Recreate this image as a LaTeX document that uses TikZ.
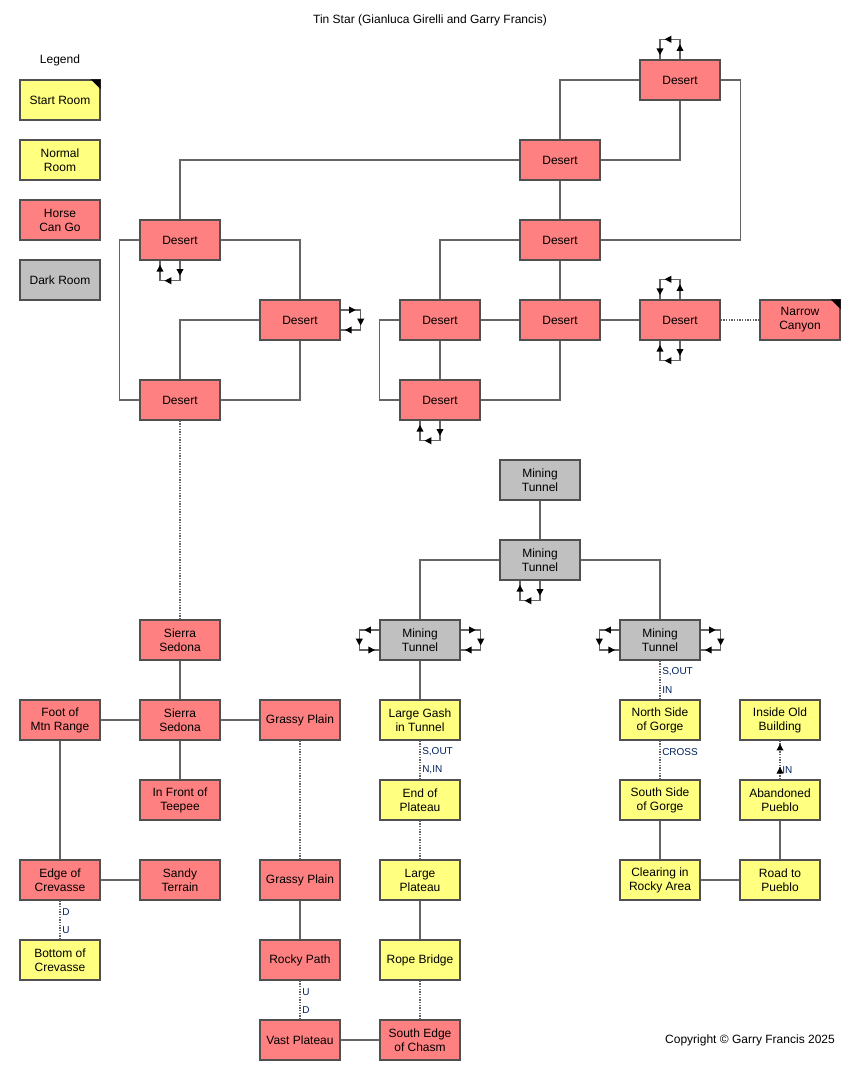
\documentclass[tikz,border=0pt]{standalone}
\usepackage{fontspec}
\setmainfont{Liberation Sans}
\usetikzlibrary{calc,decorations.markings,arrows.meta}
\definecolor{horse}{RGB}{255,128,128}
\definecolor{normal}{RGB}{255,255,128}
\definecolor{darkroom}{RGB}{192,192,192}
\definecolor{edgec}{RGB}{80,80,80}
\definecolor{conn}{RGB}{100,100,100}
\definecolor{lblc}{RGB}{0,32,96}
\begin{document}
\begin{tikzpicture}[x=0.75pt,y=-0.75pt,
  room/.style={draw=edgec,line width=1.1pt,minimum width=60pt,minimum height=30pt,inner sep=0pt,align=center,font=\fontsize{9}{10.5}\selectfont,text=black},
  hroom/.style={room,fill=horse},
  nroom/.style={room,fill=normal},
  droom/.style={room,fill=darkroom},
  link/.style={draw=conn,line width=1pt},
  dotlink/.style={draw=conn,line width=1pt,dash pattern=on 1pt off 1pt},
  lbl/.style={anchor=west,inner sep=0pt,text=lblc,font=\fontsize{7.5}{9}\selectfont},
  tip/.style={black,fill=black},
  loopst/.style={draw=conn,line width=1pt,postaction={decorate},
    decoration={markings,
      mark=at position 0.25 with {\arrow[black]{Triangle[length=5pt,width=5pt]}},
      mark=at position 0.59 with {\arrow[black]{Triangle[length=5pt,width=5pt]}},
      mark=at position 0.93 with {\arrow[black]{Triangle[length=5pt,width=5pt]}}}},
  corner/.style={fill=black}
]
\useasboundingbox (0,0) rectangle (860,1080);
\fill[white] (0,0) rectangle (860,1080);

% title and legend
\node[font=\fontsize{9}{10.5}\selectfont] (title) at (430,20) {Tin Star (Gianluca Girelli and Garry Francis)};
\node[font=\fontsize{9}{10.5}\selectfont] (legend) at (60,60) {Legend};
\node[nroom] (lgst) at (60,100) {Start Room};
\node[nroom] (lgnr) at (60,160) {Normal\\Room};
\node[hroom] (lghc) at (60,220) {Horse\\Can Go};
\node[droom] (lgdr) at (60,280) {Dark Room};
\fill[corner] (lgst.north east) -- ++(-10,0) -- ++(10,10) -- cycle;
\node[font=\fontsize{9}{10.5}\selectfont] (copy) at (750,1040) {Copyright © Garry Francis 2025};

% deserts
\node[hroom] (d1) at (680,80) {Desert};
\node[hroom] (d2) at (560,160) {Desert};
\node[hroom] (d3) at (560,240) {Desert};
\node[hroom] (d4) at (180,240) {Desert};
\node[hroom] (d5) at (300,320) {Desert};
\node[hroom] (d6) at (180,400) {Desert};
\node[hroom] (d7) at (440,320) {Desert};
\node[hroom] (d8) at (560,320) {Desert};
\node[hroom] (d9) at (680,320) {Desert};
\node[hroom] (nc) at (800,320) {Narrow\\Canyon};
\fill[corner] (nc.north east) -- ++(-10,0) -- ++(10,10) -- cycle;
\node[hroom] (d10) at (440,400) {Desert};

% desert connections
\draw[link] (d1.west) -| (d2.north);
\draw[link] (d1.south) |- (d2.east);
\draw[link] (d1.east) -- ++(20,0) |- (d3.east);
\draw[link] (d2.west) -| (d4.north);
\draw[link] (d2) -- (d3);
\draw[link] (d3.west) -| (d7.north);
\draw[link] (d3) -- (d8);
\draw[link] (d4.east) -| (d5.north);
\draw[link] (d4.west) -- ++(-20,0) |- (d6.west);
\draw[link] (d5.west) -| (d6.north);
\draw[link] (d5.south) |- (d6.east);
\draw[link] (d7) -- (d8);
\draw[link] (d8) -- (d9);
\draw[dotlink] (d9) -- (nc);
\draw[link] (d7.west) -- ++(-20,0) |- (d10.west);
\draw[link] (d7) -- (d10);
\draw[link] (d10.east) -| (d8.south);

% desert loops
\draw[loopst] (d1.north) -- ++(0,-20) -- ++(-20,0) -- ++(0,20);
\draw[loopst] (d4.south) -- ++(0,20) -- ++(-20,0) -- ++(0,-20);
\draw[loopst] ($(d5.east)+(0,-10)$) -- ++(20,0) -- ++(0,20) -- ++(-20,0);
\draw[loopst] (d9.north) -- ++(0,-20) -- ++(-20,0) -- ++(0,20);
\draw[loopst] (d9.south) -- ++(0,20) -- ++(-20,0) -- ++(0,-20);
\draw[loopst] (d10.south) -- ++(0,20) -- ++(-20,0) -- ++(0,-20);

% mining
\node[droom] (mt1) at (540,480) {Mining\\Tunnel};
\node[droom] (mt2) at (540,560) {Mining\\Tunnel};
\node[droom] (mt3) at (420,640) {Mining\\Tunnel};
\node[droom] (mt4) at (660,640) {Mining\\Tunnel};
\draw[link] (mt1) -- (mt2);
\draw[link] (mt2.west) -| (mt3.north);
\draw[link] (mt2.east) -| (mt4.north);
\draw[loopst] (mt2.south) -- ++(0,20) -- ++(-20,0) -- ++(0,-20);
\draw[loopst] ($(mt3.west)+(0,-10)$) -- ++(-20,0) -- ++(0,20) -- ++(20,0);
\draw[loopst] ($(mt3.east)+(0,-10)$) -- ++(20,0) -- ++(0,20) -- ++(-20,0);
\draw[loopst] ($(mt4.west)+(0,-10)$) -- ++(-20,0) -- ++(0,20) -- ++(20,0);
\draw[loopst] ($(mt4.east)+(0,-10)$) -- ++(20,0) -- ++(0,20) -- ++(-20,0);

% middle column
\node[nroom] (gash) at (420,720) {Large Gash\\in Tunnel};
\node[nroom] (eop) at (420,800) {End of\\Plateau};
\node[nroom] (lp) at (420,880) {Large\\Plateau};
\node[nroom] (rb) at (420,960) {Rope Bridge};
\node[hroom] (sec) at (420,1040) {South Edge\\of Chasm};
\draw[link] (mt3) -- (gash);
\draw[dotlink] (gash) -- (eop);
\node[lbl] (l1) at (422,752) {S,OUT};
\node[lbl] (l2) at (422,770) {N,IN};
\draw[dotlink] (eop) -- (lp);
\draw[link] (lp) -- (rb);
\draw[dotlink] (rb) -- (sec);

% right lower
\node[nroom] (nsg) at (660,720) {North Side\\of Gorge};
\node[nroom] (ssg) at (660,800) {South Side\\of Gorge};
\node[nroom] (clr) at (660,880) {Clearing in\\Rocky Area};
\node[nroom] (road) at (780,880) {Road to\\Pueblo};
\node[nroom] (ap) at (780,800) {Abandoned\\Pueblo};
\node[nroom] (iob) at (780,720) {Inside Old\\Building};
\draw[dotlink] (mt4) -- (nsg);
\node[lbl] (l3) at (662,672) {S,OUT};
\node[lbl] (l4) at (662,690) {IN};
\draw[dotlink] (nsg) -- (ssg);
\node[lbl] (l5) at (662,752) {CROSS};
\draw[link] (ssg) -- (clr);
\draw[link] (clr) -- (road);
\draw[link] (road) -- (ap);
\draw[dotlink,postaction={decorate},decoration={markings,
  mark=at position 0.32 with {\arrow[black]{Triangle[length=5pt,width=5pt]}},
  mark=at position 0.92 with {\arrow[black]{Triangle[length=5pt,width=5pt]}}}] (ap.north) -- (iob.south);
\node[lbl] (l6) at (782,770) {IN};

% left lower
\node[hroom] (ss1) at (180,640) {Sierra\\Sedona};
\node[hroom] (ss2) at (180,720) {Sierra\\Sedona};
\node[hroom] (foot) at (60,720) {Foot of\\Mtn Range};
\node[hroom] (gp1) at (300,720) {Grassy Plain};
\node[hroom] (tee) at (180,800) {In Front of\\Teepee};
\node[hroom] (edge) at (60,880) {Edge of\\Crevasse};
\node[hroom] (sandy) at (180,880) {Sandy\\Terrain};
\node[nroom] (bot) at (60,960) {Bottom of\\Crevasse};
\node[hroom] (gp2) at (300,880) {Grassy Plain};
\node[hroom] (rp) at (300,960) {Rocky Path};
\node[hroom] (vp) at (300,1040) {Vast Plateau};
\draw[dotlink] (d6) -- (ss1);
\draw[link] (ss1) -- (ss2);
\draw[link] (ss2) -- (foot);
\draw[link] (ss2) -- (gp1);
\draw[link] (ss2) -- (tee);
\draw[link] (foot) -- (edge);
\draw[link] (edge) -- (sandy);
\draw[dotlink] (edge) -- (bot);
\node[lbl] (l7) at (62,912) {D};
\node[lbl] (l8) at (62,930) {U};
\draw[dotlink] (gp1) -- (gp2);
\draw[link] (gp2) -- (rp);
\draw[dotlink] (rp) -- (vp);
\node[lbl] (l9) at (302,992) {U};
\node[lbl] (l10) at (302,1010) {D};
\draw[link] (vp) -- (sec);
\end{tikzpicture}
\end{document}
